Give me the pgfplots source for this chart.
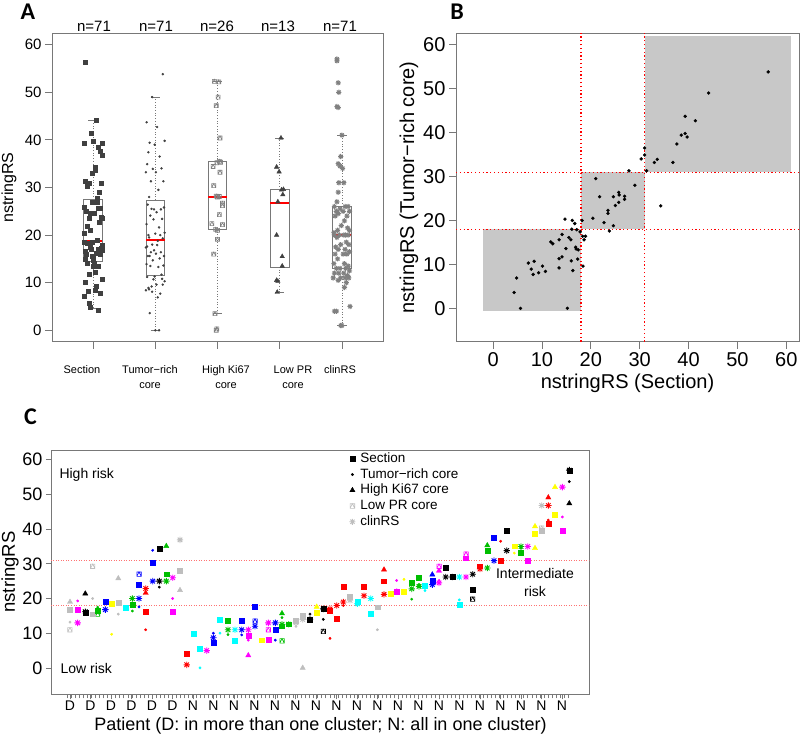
\documentclass[border=0pt]{standalone}
\usepackage{fontspec}
\setmainfont{Liberation Sans}
\newfontfamily\letterfont{Carlito}
\usepackage{pgfplots}
\pgfplotsset{compat=1.18}
\usepackage{pgfplotstable}
\usepgfplotslibrary{statistics}
\definecolor{cgreen}{RGB}{0,190,0}
\definecolor{cred}{RGB}{255,0,0}
\definecolor{cblue}{RGB}{0,0,255}
\definecolor{ccyan}{RGB}{0,255,255}
\definecolor{cmag}{RGB}{255,0,255}
\definecolor{cyel}{RGB}{255,255,0}
\definecolor{cgray}{RGB}{190,190,190}
\definecolor{boxgray}{RGB}{120,120,120}
\definecolor{ptgray}{RGB}{64,64,64}
\newcommand\fs[1]{\fontsize{#1}{#1}\selectfont}

\pgfdeclareplotmark{star8}{%
  \pgfpathmoveto{\pgfqpoint{-\pgfplotmarksize}{0pt}}\pgfpathlineto{\pgfqpoint{\pgfplotmarksize}{0pt}}%
  \pgfpathmoveto{\pgfqpoint{0pt}{-\pgfplotmarksize}}\pgfpathlineto{\pgfqpoint{0pt}{\pgfplotmarksize}}%
  \pgfpathmoveto{\pgfqpoint{-.707\pgfplotmarksize}{-.707\pgfplotmarksize}}\pgfpathlineto{\pgfqpoint{.707\pgfplotmarksize}{.707\pgfplotmarksize}}%
  \pgfpathmoveto{\pgfqpoint{-.707\pgfplotmarksize}{.707\pgfplotmarksize}}\pgfpathlineto{\pgfqpoint{.707\pgfplotmarksize}{-.707\pgfplotmarksize}}%
  \pgfusepathqstroke}
\pgfdeclareplotmark{sqtri}{%
  \pgfpathrectangle{\pgfqpoint{-\pgfplotmarksize}{-\pgfplotmarksize}}{\pgfqpoint{2\pgfplotmarksize}{2\pgfplotmarksize}}%
  \pgfpathmoveto{\pgfqpoint{-\pgfplotmarksize}{-\pgfplotmarksize}}\pgfpathlineto{\pgfqpoint{0pt}{\pgfplotmarksize}}\pgfpathlineto{\pgfqpoint{\pgfplotmarksize}{-\pgfplotmarksize}}%
  \pgfusepathqstroke}

% Section vs Tumor-rich core (panel B, and panel A columns 1-2), j = jitter
\pgfplotstableread{
sec trc j
56.3 53.8 -0.12
44.1 49.0 0.05
39.3 43.7 0.14
41.4 42.7 -0.03
38.5 39.4 0.09
39.3 39.8 -0.15
39.7 39.0 0.01
37.6 37.4 0.11
31.0 36.5 -0.07
31.0 34.9 0.13
30.3 34.0 -0.10
33.6 33.9 0.04
33.0 33.2 -0.01
36.8 33.2 0.15
31.4 31.3 -0.13
27.8 31.3 0.07
21.0 29.5 -0.05
29.0 28.0 0.10
21.8 25.4 -0.09
24.6 25.4 0.02
25.7 26.4 0.12
25.8 25.8 -0.14
26.9 25.5 0.06
26.9 24.8 -0.02
25.7 24.1 0.08
25.0 23.4 -0.11
23.5 22.3 0.14
23.5 21.6 -0.06
34.3 23.3 0.03
20.4 20.5 -0.15
22.7 19.5 0.10
24.6 18.8 -0.04
23.8 17.6 0.13
18.2 20.0 -0.08
14.7 20.3 0.00
16.2 20.0 0.11
16.7 19.3 -0.12
16.1 18.0 0.05
17.1 17.9 -0.03
17.8 17.4 0.15
18.3 16.4 -0.09
18.9 16.4 0.07
18.6 15.6 -0.14
14.1 16.8 0.02
13.5 15.6 0.09
15.5 16.1 -0.01
15.9 15.6 0.12
11.8 15.1 -0.07
12.2 14.7 0.04
14.9 13.6 -0.13
16.9 13.9 0.14
17.4 13.3 -0.05
17.0 13.5 0.08
14.1 11.7 -0.10
13.5 11.3 0.01
17.3 11.2 0.13
16.0 10.8 -0.11
13.5 9.2 0.06
18.4 9.6 -0.02
16.3 8.6 0.10
7.2 10.3 -0.15
8.4 10.7 0.03
7.8 8.9 0.11
8.2 7.7 -0.08
9.3 8.1 0.05
10.1 9.6 -0.12
10.7 8.4 0.15
4.8 6.9 -0.04
4.3 3.6 0.09
5.6 0.0 -0.06
15.2 0.0 0.00
}\tabSB

\pgfplotstableread{
v j
52.3 -0.05
52.2 0.02
49.0 0.01
47.2 -0.02
40.4 0.04
35.5 0.03
35.3 0.05
35.2 -0.01
34.4 -0.07
33.2 0.04
30.4 -0.06
28.2 -0.02
28.1 0.03
28.0 0.00
26.7 0.08
26.2 0.08
24.3 0.03
22.4 -0.09
22.2 0.08
21.2 -0.03
21.0 0.00
19.1 0.00
16.0 -0.06
3.5 -0.04
0.0 -0.02
0.3 -0.01
}\tabKi

\pgfplotstableread{
v j
40.4 0.02
34.3 -0.05
33.3 -0.01
29.6 0.06
29.5 0.03
28.5 0.05
27.0 -0.03
20.0 -0.05
15.5 0.04
13.5 0.04
10.5 -0.05
10.3 -0.03
8.0 -0.04
}\tabPR

\pgfplotstableread{
v j
57.0 -0.08
56.6 -0.08
52.0 -0.06
50.0 -0.05
47.0 -0.08
46.8 -0.06
41.0 0.00
36.5 -0.02
35.0 -0.06
34.5 -0.03
34.0 0.01
31.0 -0.05
31.0 0.03
29.0 -0.06
27.0 -0.08
26.0 0.10
26.0 -0.12
26.0 0.05
25.5 -0.03
25.0 0.12
25.0 -0.09
25.0 0.02
24.5 -0.06
24.0 0.08
24.0 -0.11
23.0 0.04
22.0 -0.01
21.5 0.09
21.0 -0.07
21.0 0.12
20.5 -0.13
20.0 0.06
20.0 -0.04
20.0 0.10
19.5 -0.08
20.0 0.03
20.0 -0.12
18.5 0.07
18.0 -0.02
18.0 0.11
17.5 -0.10
17.0 0.05
17.0 -0.06
16.5 0.12
16.0 -0.11
16.0 0.02
16.0 0.08
15.0 -0.07
14.0 0.04
14.0 -0.13
13.5 0.10
13.0 -0.03
13.0 0.06
13.0 -0.09
12.5 0.12
12.0 -0.05
12.0 0.03
12.0 -0.12
11.5 0.09
11.0 -0.14
11.0 0.05
11.0 -0.02
11.0 0.11
10.5 -0.06
10.0 0.07
9.0 0.04
5.0 0.13
4.0 -0.09
4.0 -0.12
1.0 0.00
1.0 -0.02
}\tabCR

% Panel C: patient position (x), value (y), colour class (c)
\pgfplotstableread{
x y c
70 16.7 a
77.7 16.7 m
85.3 16.0 k
92.7 15.5 a
97.7 16.5 g
105.3 19.0 b
111.7 18.5 y
118.3 18.7 a
126 17.3 c
132.3 18.3 g
139 24.0 b
145.7 16.2 r
152.7 30.3 b
159.3 34.3 k
166.3 27.0 g
172.7 16.3 m
180 28.0 a
186.7 4.2 r
193.3 9.9 c
200 5.6 c
213.3 7.2 b
220 13.8 c
228 13.7 g
235 7.9 c
241.7 13.7 b
248.3 9.4 m
255 17.6 b
261.7 8.0 y
268.3 8.2 m
275.3 11.0 b
282 12.0 g
288.7 12.6 g
296 13.5 a
302.7 15.0 a
310 13.8 k
316.7 16.0 y
323.3 17.0 k
330 16.5 r
336.7 14.3 r
343.3 23.3 r
350 20.5 a
357.3 19.0 c
364 23.5 r
370.7 15.7 c
377.3 17.5 a
384 25.0 r
390.7 21.5 y
396.7 22.0 m
404 21.9 y
411.7 24.5 g
419 26.0 g
425 23.8 c
432.3 25.2 b
445.7 28.8 k
452.3 26.2 k
459.3 18.3 c
466 31.6 m
472.7 22.6 k
480 29.3 r
487.3 33.7 g
494 37.6 b
500.7 30.9 r
506.7 39.5 k
514.3 35.1 y
521 33.2 g
527.7 31.0 m
535 38.6 y
541.7 39.5 a
548.3 41.6 r
555 44.2 y
562.3 39.5 m
569.3 56.8 k
}\tabCsec

\pgfplotstableread{
x y c
70 13.2 a
77.7 19.3 m
92.7 20.0 a
97.7 17.5 g
111.7 9.7 y
118.3 15.5 a
132.3 16.4 g
139 17.6 b
145.7 11.0 r
152.7 33.9 b
159.3 23.3 k
172.7 20.0 m
186.7 3.8 r
200 0.0 c
213.3 10.0 b
220 10.0 c
228 9.6 g
241.7 9.5 b
248.3 8.0 m
275.3 8.0 b
282 14.5 g
296 12.0 a
310 15.5 k
323.3 14.0 k
330 8.5 r
343.3 18.0 r
377.3 11.0 a
396.7 25.2 m
404 25.5 y
411.7 19.8 g
419 24.0 g
425 22.3 c
439 25.2 m
459.3 19.6 c
500.7 36.5 r
514.3 33.1 y
521 34.5 g
548.3 42.6 r
562.3 43.5 m
569.3 53.7 k
}\tabCtrc

\pgfplotstableread{
x y c
70 19.0 a
85.3 21.4 k
118.3 25.8 a
145.7 21.6 r
166.3 35.1 g
180 22.4 a
248.3 3.6 m
282 15.7 g
302.7 0.0 a
316.7 17.6 y
384 28.3 r
432.3 26.9 b
439 28.0 m
487.3 35.3 g
535 40.8 y
535 34.5 y
548.3 49.1 r
555 52.1 y
569.3 47.4 k
}\tabCki

\pgfplotstableread{
x y c
70 11.0 a
92.7 29.3 a
97.7 15.5 g
139 27.0 b
255 13.5 b
268.3 11.0 m
282 7.8 g
323.3 10.5 k
439 29.3 m
466 32.8 m
472.7 19.8 k
541.7 40.3 a
}\tabCpr

\pgfplotstableread{
x y c
77.7 13.0 m
85.3 16.2 k
105.3 16.8 b
132.3 20.0 g
139 20.0 b
145.7 22.9 r
152.7 25.0 b
159.3 25.0 k
166.3 25.0 g
172.7 26.0 m
180 36.9 a
186.7 0.9 r
206.7 5.0 m
213.3 8.7 b
228 11.0 g
235 11.0 c
241.7 11.0 b
248.3 11.0 m
255 12.0 b
268.3 13.0 m
275.3 13.0 b
282 12.6 g
288.7 12.6 g
296 13.0 a
302.7 14.0 a
310 14.0 k
323.3 17.0 k
330 17.0 r
336.7 18.0 r
343.3 19.0 r
350 19.5 a
357.3 18.5 c
364 20.8 r
370.7 20.0 c
384 21.2 r
396.7 22.0 m
411.7 22.8 g
419 23.5 g
425 23.5 c
432.3 24.0 b
439 24.5 m
445.7 26.2 k
452.3 26.2 k
459.3 26.2 c
466 26.2 m
472.7 27.0 k
480 28.5 r
487.3 28.8 g
494 30.9 b
506.7 33.8 k
521 35.0 g
527.7 35.0 m
541.7 46.8 a
548.3 46.8 r
562.3 52.1 m
569.3 57.0 k
}\tabCcr

\pgfplotsset{
  rstyle/.style={scale only axis, anchor=south west,
    axis line style={boxgray, line width=0.8pt},
    tick style={boxgray, line width=0.8pt}, tick align=outside,
    major tick length=7pt, tick pos=left,
    /pgf/number format/assume math mode=true},
  cc/.style={scatter, only marks, point meta=explicit symbolic,
    scatter/classes={k={black}, r={cred}, g={cgreen}, b={cblue}, c={ccyan},
      m={cmag}, y={cyel}, a={cgray}}},
  bp/.style={boxgray, line width=0.7pt, boxplot/draw direction=y,
    boxplot/every median/.style={cred, line width=2pt},
    boxplot/draw/lower whisker/.code={
      \draw[dotted] (boxplot box cs:\pgfplotsboxplotvalue{lower quartile},0.5) -- (boxplot box cs:\pgfplotsboxplotvalue{lower whisker},0.5);
      \draw (boxplot whisker cs:\pgfplotsboxplotvalue{lower whisker},0) -- (boxplot whisker cs:\pgfplotsboxplotvalue{lower whisker},1);},
    boxplot/draw/upper whisker/.code={
      \draw[dotted] (boxplot box cs:\pgfplotsboxplotvalue{upper quartile},0.5) -- (boxplot box cs:\pgfplotsboxplotvalue{upper whisker},0.5);
      \draw (boxplot whisker cs:\pgfplotsboxplotvalue{upper whisker},0) -- (boxplot whisker cs:\pgfplotsboxplotvalue{upper whisker},1);}
  }
}

\begin{document}
\begin{tikzpicture}[x=1pt,y=1pt]
\useasboundingbox (0,0) rectangle (800,735);

% ---------------- Panel A ----------------
\begin{axis}[rstyle, at={(52pt,393.3pt)}, width=331pt, height=308.4pt,
  xmin=0.34, xmax=5.66, ymin=-2.4, ymax=62.4,
  xtick={1,2,3,4,5}, xticklabels={}, ytick={0,10,...,60},
  yticklabel style={font=\fs{15}}]
\addplot[only marks, mark=square*, mark size=2pt, ptgray] table[x expr=1+\thisrow{j}, y=sec] {\tabSB};
\addplot[only marks, mark=*, mark size=1pt, ptgray] table[x expr=2-\thisrow{j}, y=trc] {\tabSB};
\addplot[only marks, mark=sqtri, mark size=2pt, gray, line width=0.6pt] table[x expr=3+\thisrow{j}, y=v] {\tabKi};
\addplot[only marks, mark=triangle*, mark size=2.6pt, ptgray] table[x expr=4+\thisrow{j}, y=v] {\tabPR};
\addplot[only marks, mark=star8, mark size=2.6pt, gray, line width=1pt] table[x expr=5+\thisrow{j}, y=v] {\tabCR};
\addplot[bp, boxplot prepared={draw position=1, median=18.7, lower quartile=14.5, upper quartile=27.5, lower whisker=4.6, upper whisker=44.2, box extend=0.3, whisker extend=0.15}] coordinates {};
\addplot[bp, boxplot prepared={draw position=2, median=19.0, lower quartile=11.6, upper quartile=27.4, lower whisker=0, upper whisker=49.0, box extend=0.3, whisker extend=0.15}] coordinates {};
\addplot[bp, boxplot prepared={draw position=3, median=28.0, lower quartile=21.3, upper quartile=35.4, lower whisker=3.5, upper whisker=52.3, box extend=0.3, whisker extend=0.15}] coordinates {};
\addplot[bp, boxplot prepared={draw position=4, median=26.8, lower quartile=13.3, upper quartile=29.6, lower whisker=8.0, upper whisker=40.4, box extend=0.3, whisker extend=0.15}] coordinates {};
\addplot[bp, boxplot prepared={draw position=5, median=20.0, lower quartile=13.0, upper quartile=26.0, lower whisker=1.0, upper whisker=41.0, box extend=0.3, whisker extend=0.15}] coordinates {};
\end{axis}
\foreach \xx in {94,156,217,278,340} {\node[font=\fs{15}] at (\xx,708.3) {n=\ifnum\xx=217 26\else\ifnum\xx=278 13\else 71\fi\fi};}
\node[rotate=90, font=\fs{16}] at (9,547.5) {nstringRS};
\begin{scope}[every node/.style={anchor=north, align=center, font=\fontsize{11}{15}\selectfont}]
\node at (82,373) {Section};
\node at (150,373) {Tumor−rich\\core};
\node at (226,373) {High Ki67\\core};
\node at (293,373) {Low PR\\core};
\node at (340,373) {clinRS};
\end{scope}
\node[font=\letterfont\bfseries\fs{24}] at (28,723) {A};

% ---------------- Panel B ----------------
\begin{axis}[rstyle, at={(456pt,393.3pt)}, width=343pt, height=308.4pt,
  xmin=-7.6, xmax=62.6, ymin=-7.6, ymax=62.6,
  xtick={0,10,...,60}, ytick={0,10,...,60},
  tick label style={font=\fs{20}}]
\addplot[draw=none, fill=cgray!85] coordinates {(-2,-0.5) (18,-0.5) (18,18) (-2,18)};
\addplot[draw=none, fill=cgray!85] coordinates {(18,18) (31,18) (31,31) (18,31)};
\addplot[draw=none, fill=cgray!85] coordinates {(31,31) (61,31) (61,62) (31,62)};
\addplot[cred, line width=1.2pt, dash pattern=on 1.2pt off 2.6pt] coordinates {(18,-7.6) (18,62.6)};
\addplot[cred, line width=1.2pt, dash pattern=on 1.2pt off 2.6pt] coordinates {(31,-7.6) (31,62.6)};
\addplot[cred, line width=1.2pt, dash pattern=on 1.2pt off 2.6pt] coordinates {(-7.6,18) (62.6,18)};
\addplot[cred, line width=1.2pt, dash pattern=on 1.2pt off 2.6pt] coordinates {(-7.6,31) (62.6,31)};
\addplot[only marks, mark=*, mark size=1.5pt, black] table[x=sec, y=trc] {\tabSB};
\end{axis}
\node[rotate=90, font=\fs{20}] at (409,547.5) {nstringRS (Tumor−rich core)};
\node[font=\fs{20}] at (627.5,352) {nstringRS (Section)};
\node[font=\letterfont\bfseries\fs{24}] at (457,723) {B};

% ---------------- Panel C ----------------
\begin{axis}[rstyle, at={(51pt,40.7pt)}, width=538.3pt, height=243.6pt,
  xmin=51, xmax=589.3, ymin=-7.6, ymax=62.6,
  major tick length=5pt, minor tick length=4pt,
  xtick={70,90.5,...,562.1},
  xticklabels={D,D,D,D,D,D,N,N,N,N,N,N,N,N,N,N,N,N,N,N,N,N,N,N,N},
  minor xtick={67.3,71.34,...,568.1},
  ytick={0,10,...,60},
  xticklabel style={font=\fs{14}, yshift=1.5pt}, yticklabel style={font=\fs{18}},
  legend style={draw=none, fill=none, at={(0.554,1.0)}, anchor=north west,
    font=\fs{13.5}, inner sep=0pt, row sep=0pt, column sep=3.9pt,
    nodes={inner sep=1pt, text height=10.5pt, text depth=3.25pt}},
  legend cell align=left]
\addlegendimage{only marks, mark=square*, mark size=2.5pt, black}
\addlegendentry{Section}
\addlegendimage{only marks, mark=*, mark size=1.3pt, black}
\addlegendentry{Tumor−rich core}
\addlegendimage{only marks, mark=triangle*, mark size=3pt, black}
\addlegendentry{High Ki67 core}
\addlegendimage{only marks, mark=sqtri, mark size=2.3pt, cgray, line width=0.6pt}
\addlegendentry{Low PR core}
\addlegendimage{only marks, mark=star8, mark size=3pt, cgray, line width=0.9pt}
\addlegendentry{clinRS}
\addplot[cred!55, line width=0.6pt, dash pattern=on 1pt off 1.5pt] coordinates {(51,18) (589.3,18)};
\addplot[cred!55, line width=0.6pt, dash pattern=on 1pt off 1.5pt] coordinates {(51,31) (589.3,31)};
\addplot[cc, mark=sqtri, mark size=2.2pt, line width=0.6pt] table[x=x, y=y, meta=c] {\tabCpr};
\addplot[cc, mark=square*, mark size=2.4pt] table[x=x, y=y, meta=c] {\tabCsec};
\addplot[cc, mark=triangle*, mark size=3pt] table[x=x, y=y, meta=c] {\tabCki};
\addplot[cc, mark=star8, mark size=3.2pt, line width=0.9pt] table[x=x, y=y, meta=c] {\tabCcr};
\addplot[cc, mark=*, mark size=1.2pt] table[x=x, y=y, meta=c] {\tabCtrc};
\end{axis}
\node[anchor=west, font=\fs{14}] at (56,260) {High risk};
\node[anchor=west, font=\fs{14}] at (57,67) {Low risk};
\node[align=center, font=\fontsize{14}{18}\selectfont] at (535,152) {Intermediate\\risk};
\node[rotate=90, font=\fs{18.5}] at (10,163) {nstringRS};
\node[font=\fs{18}] at (320.5,9.5) {Patient (D: in more than one cluster; N: all in one cluster)};
\node[font=\letterfont\bfseries\fs{24}] at (30.5,318.5) {C};
\end{tikzpicture}
\end{document}
